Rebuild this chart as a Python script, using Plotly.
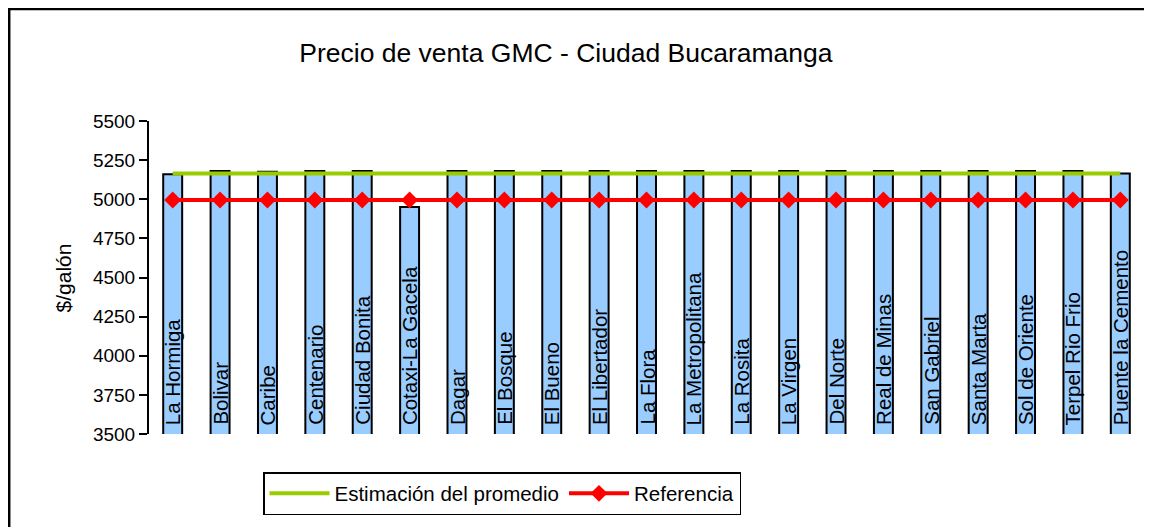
import plotly.graph_objects as go

# Estaciones y precios
estaciones = ["La Hormiga", "Bolivar", "Caribe", "Centenario", "Ciudad Bonita",
              "Cotaxi-La Gacela", "Dagar", "El Bosque", "El Bueno", "El Libertador",
              "La Flora", "La Metropolitana", "La Rosita", "La Virgen", "Del Norte",
              "Real de Minas", "San Gabriel", "Santa Marta", "Sol de Oriente",
              "Terpel Rio Frio", "Puente la Cemento"]
precios = [5160, 5180, 5175, 5180, 5180, 4950, 5180, 5180, 5180, 5180,
           5180, 5180, 5180, 5180, 5180, 5180, 5180, 5180, 5180, 5180, 5165]
promedio = [5165] * len(estaciones)
referencia = [4995] * len(estaciones)
y_min, y_max = 3500, 5500

FONT = "Arial, Liberation Sans, sans-serif"

fig = go.Figure()

fig.add_trace(go.Bar(
    x=estaciones, y=precios,
    marker=dict(color="#99CCFF", line=dict(color="black", width=2)),
    showlegend=False, hoverinfo="x+y",
))

fig.add_trace(go.Scatter(
    x=estaciones, y=promedio, mode="lines", name="Estimación del promedio",
    line=dict(color="#99CC00", width=4),
))

fig.add_trace(go.Scatter(
    x=estaciones, y=referencia, mode="lines+markers", name="Referencia",
    line=dict(color="#FF0000", width=4),
    marker=dict(symbol="diamond", size=13, color="#FF0000"),
))

# Nombre de cada estación dentro de su barra, de abajo hacia arriba
for est in estaciones:
    fig.add_annotation(x=est, y=y_min, text=est, textangle=-90,
                       xanchor="center", yanchor="bottom", yshift=7,
                       showarrow=False,
                       font=dict(family=FONT, size=20.5, color="black"))

# Marco exterior del gráfico
fig.add_shape(type="rect", xref="paper", yref="paper",
              x0=-0.1405, x1=1.03, y0=-0.33, y1=1.358,
              line=dict(color="black", width=2.5), layer="below")

fig.add_annotation(text="$/galón", xref="paper", yref="paper", x=-0.099, y=0.5,
                   textangle=-90, showarrow=False,
                   font=dict(family=FONT, size=21, color="black"))

# la página añade 8 px de margen al cuerpo: se compensa aquí
fig.update_layout(
    width=1152, height=527,
    margin=dict(l=141, r=16, t=113, b=101, autoexpand=False),
    paper_bgcolor="white", plot_bgcolor="white",
    font=dict(family=FONT, size=19, color="black"),
    title=dict(text="Precio de venta GMC - Ciudad Bucaramanga",
               x=0.419, xref="paper", xanchor="center",
               y=1 - 45 / 527, yanchor="middle",
               font=dict(family=FONT, size=26.5, color="black")),
    bargap=0.6,
    showlegend=True,
    legend=dict(orientation="h", xref="container", yref="container",
                x=255 / 1152, y=1 - 464 / 527, xanchor="left", yanchor="top",
                itemwidth=60,
                bordercolor="black", borderwidth=1.5, bgcolor="white",
                font=dict(family=FONT, size=20.5, color="black")),
    xaxis=dict(range=[-0.5, len(estaciones) - 0.5], showticklabels=False,
               showline=False, ticks="", showgrid=False, zeroline=False,
               automargin=False),
    yaxis=dict(range=[y_min, y_max], tickvals=list(range(y_min, y_max + 1, 250)),
               showline=True, linecolor="black", linewidth=2,
               ticks="outside", ticklen=8, tickwidth=2, tickcolor="black",
               showgrid=False, zeroline=False, automargin=False,
               tickfont=dict(family=FONT, size=19, color="black")),
)

fig.write_html("out.html")
